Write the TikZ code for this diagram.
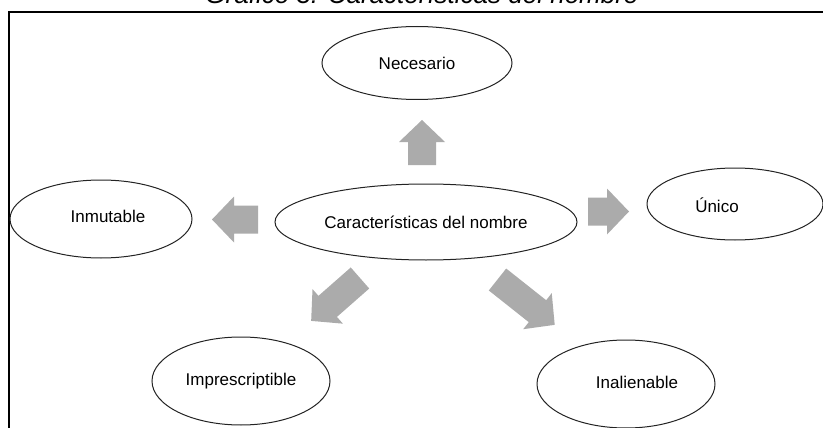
\documentclass[tikz,border=0pt]{standalone}
\usepackage{fontspec}
\setmainfont{Liberation Sans}
\usetikzlibrary{shapes.geometric}
\definecolor{arrowgray}{RGB}{171,171,171}
\definecolor{edgegray}{RGB}{35,35,35}
\newcommand\blockarr[4]{% x, y, angle, length
  \fill[blockarrow, shift={(#1,#2)}, rotate=#3]
    (0,-14) -- (#4-22,-14) -- (#4-22,-23) -- (#4,0) -- (#4-22,23) -- (#4-22,14) -- (0,14) -- cycle;}
\begin{document}
\begin{tikzpicture}[x=1pt,y=-1pt,
  oval/.style={ellipse, draw=edgegray, line width=1pt, inner sep=0pt, font=\fontsize{17}{20}\selectfont},
  blockarrow/.style={fill=arrowgray},
  frameline/.style={line width=2pt, black}]
\useasboundingbox (0,0) rectangle (823,428);
\begin{scope}
  \clip (0,0) rectangle (823,428);
  \node[font=\itshape\fontsize{26}{30}\selectfont, anchor=base, inner sep=0pt] (title) at (422,4) {Gráfico 3: Características del nombre};
\end{scope}
\coordinate (fbl) at (8.5,428);
\coordinate (ftl) at (8.5,12);
\coordinate (ftr) at (823,12);
\draw[frameline] (fbl) -- (ftl) -- (ftr);

\node[oval, minimum width=190pt, minimum height=73pt] (necesario) at (417,63) {Necesario};
\node[oval, minimum width=182pt, minimum height=78pt] (inmutable) at (101,219) {};
\node[oval, minimum width=302pt, minimum height=76pt] (centro) at (426,222) {Características del nombre};
\node[oval, minimum width=176pt, minimum height=72pt] (unico) at (735,204) {};
\node[oval, minimum width=178pt, minimum height=88pt] (impres) at (241,381) {Imprescriptible};
\node[oval, minimum width=178pt, minimum height=88pt] (inalien) at (626,384) {};

\node[font=\fontsize{17}{20}\selectfont, inner sep=0pt] (inmutabletext) at (108,216) {Inmutable};
\node[font=\fontsize{17}{20}\selectfont, inner sep=0pt] (unicotext) at (717,205) {Único};
\node[font=\fontsize{17}{20}\selectfont, inner sep=0pt] (inalientext) at (637,382) {Inalienable};

\blockarr{422}{165}{90}{45}
\blockarr{258}{219.5}{180}{46}
\blockarr{588}{211.5}{0}{41}
\blockarr{360}{278}{221.3}{65}
\blockarr{497.5}{279.5}{-38.4}{73}
\end{tikzpicture}
\end{document}
